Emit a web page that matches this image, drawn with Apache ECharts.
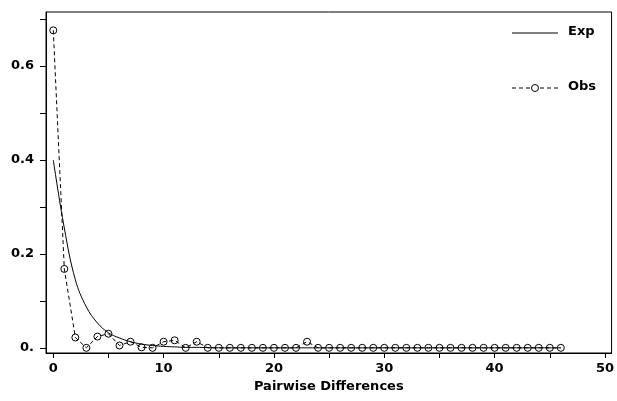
<!DOCTYPE html>
<html>
<head>
<meta charset="utf-8">
<script src="https://cdn.jsdelivr.net/npm/echarts@6/dist/echarts.min.js"></script>
<style>
html,body{margin:0;padding:0;background:#fff;}
#c{width:617px;height:401px;}
</style>
</head>
<body>
<div id="c"></div>
<script>
var diffs = [0,1,2,3,4,5,6,7,8,9,10,11,12,13,14,15,16,17,18,19,20,21,22,23,24,25,26,27,28,29,30,31,32,33,34,35,36,37,38,39,40,41,42,43,44,45,46];
var obs = [0.676,0.168,0.022,0.0,0.024,0.030,0.005,0.013,0.001,0.0,0.013,0.016,0.0,0.013,0.0,0.0,0.0,0.0,0.0,0.0,0.0,0.0,0.0,0.013,0.0,0.0,0.0,0.0,0.0,0.0,0.0,0.0,0.0,0.0,0.0,0.0,0.0,0.0,0.0,0.0,0.0,0.0,0.0,0.0,0.0,0.0,0.0];
var exp = [0.400,0.255,0.145,0.087,0.053,0.032,0.021,0.013,0.008,0.005,0.003,0.002,0.001,0.001,0.0005,0.0,0.0,0.0,0.0,0.0,0.0,0.0,0.0,0.0,0.0,0.0,0.0,0.0,0.0,0.0,0.0,0.0,0.0,0.0,0.0,0.0,0.0,0.0,0.0,0.0,0.0,0.0,0.0,0.0,0.0,0.0,0.0];
var seriesNames = ['Exp','Obs'];
var xLabels = [0,10,20,30,40,50];
var xTicks = [0,5,10,15,20,25,30,35,40,45,50];
var yLabels = [0,0.2,0.4,0.6];
var yTicks = [0,0.1,0.2,0.3,0.4,0.5,0.6,0.7];

function pairs(xs, ys){ return xs.map(function(x,i){ return [x, ys[i]]; }); }

var FONT = 'DejaVu Sans';
var TXT = {fontFamily:FONT, fontWeight:'bold', fontSize:13, fill:'#000'};
var chart = echarts.init(document.getElementById('c'), null, {renderer:'canvas'});
chart.setOption({
  animation:false,
  backgroundColor:'#fff',
  grid:{left:46, right:5, top:12, bottom:48, show:true, borderColor:'#000', borderWidth:1, backgroundColor:'transparent'},
  graphic:[
    {type:'line', shape:{x1:512,y1:33,x2:558,y2:33}, style:{stroke:'#000', lineWidth:1}},
    {type:'text', left:568, top:25, style:Object.assign({text:seriesNames[0]}, TXT)},
    {type:'line', shape:{x1:512,y1:88,x2:558,y2:88}, style:{stroke:'#000', lineWidth:1, lineDash:[4,3]}},
    {type:'circle', shape:{cx:535, cy:88, r:3.5}, style:{fill:'#fff', stroke:'#000', lineWidth:1}},
    {type:'text', left:568, top:80, style:Object.assign({text:seriesNames[1]}, TXT)}
  ],
  xAxis:{
    type:'value', min:-0.66, max:50.6,
    name:'Pairwise Differences', nameLocation:'middle', nameGap:24,
    nameTextStyle:{fontFamily:FONT, fontWeight:'bold', fontSize:13, color:'#000'},
    axisLine:{show:true, onZero:false, lineStyle:{color:'#000', width:1}},
    axisTick:{show:true, length:5, customValues:xTicks, lineStyle:{color:'#000'}},
    axisLabel:{customValues:xLabels, margin:9, fontFamily:FONT, fontWeight:'bold', fontSize:13, color:'#000'},
    splitLine:{show:false}
  },
  yAxis:{
    type:'value', min:-0.011, max:0.715,
    axisLine:{show:true, onZero:false, lineStyle:{color:'#000', width:1}},
    axisTick:{show:true, length:6, customValues:yTicks, lineStyle:{color:'#000'}},
    axisLabel:{customValues:yLabels, margin:12, fontFamily:FONT, fontWeight:'bold', fontSize:13, color:'#000',
      formatter:function(v){ return v===0 ? '0.' : v.toFixed(1); }},
    splitLine:{show:false}
  },
  series:[
    {name:seriesNames[0], type:'line', data:pairs(diffs, exp), showSymbol:false, symbol:'none', smooth:0.4,
      lineStyle:{color:'#000', width:1, type:'solid'}, itemStyle:{color:'#000'}, z:2},
    {name:seriesNames[1], type:'line', data:pairs(diffs, obs), symbol:'circle', symbolSize:7,
      lineStyle:{color:'#000', width:1, type:[4,3]},
      itemStyle:{color:'rgba(255,255,255,0)', borderColor:'#000', borderWidth:1}, z:3}
  ]
});
</script>
</body>
</html>
